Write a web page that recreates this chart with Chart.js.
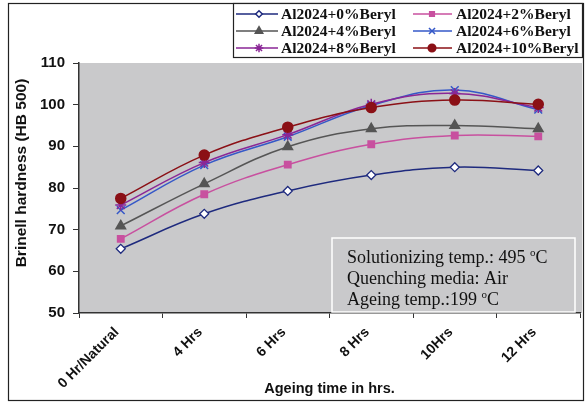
<!DOCTYPE html>
<html>
<head>
<meta charset="utf-8">
<script src="https://cdn.jsdelivr.net/npm/chart.js@4/dist/chart.umd.min.js"></script>
<style>
  html, body { margin: 0; padding: 0; background: #fff; }
  #wrap { width: 588px; height: 403px; }
</style>
</head>
<body>
<div id="wrap"><canvas id="chartCanvas" width="588" height="403"></canvas></div>
<script>
// categories and series
const categories = ["0 Hr/Natural", "4 Hrs", "6 Hrs", "8 Hrs", "10Hrs", "12 Hrs"];
const beryl0 = [65.4, 73.8, 79.3, 83.1, 85.0, 84.2];
const beryl2 = [67.8, 78.5, 85.6, 90.5, 92.6, 92.4];
const beryl4 = [70.9, 81.0, 89.9, 94.2, 95.0, 94.2];
const beryl6 = [74.7, 85.5, 92.3, 99.8, 103.5, 98.8];
const beryl8 = [75.9, 86.1, 92.8, 100.1, 102.7, 99.3];
const beryl10 = [77.5, 87.9, 94.6, 99.3, 101.1, 100.1];
const seriesNames = ["Al2024+0%Beryl", "Al2024+2%Beryl", "Al2024+4%Beryl",
                     "Al2024+6%Beryl", "Al2024+8%Beryl", "Al2024+10%Beryl"];
const yTicks = { min: 50, max: 110, step: 10 };
const noteLines = ["Solutionizing temp.: 495 ", "Quenching media: Air", "Ageing temp.:199 "];

const styles = [
    { color: "#1e2a7e", point: "rectRot", fill: "#ffffff", r: 4.5 },
    { color: "#c8509f", point: "rect", fill: "#c8509f", r: 4.5 },
    { color: "#555555", point: "triangle", fill: "#555555", r: 5.5 },
    { color: "#3558c8", point: "crossRot", fill: "#3558c8", r: 5.5 },
    { color: "#8a2696", point: "star", fill: "#8a2696", r: 5.5 },
    { color: "#8b1016", point: "circle", fill: "#8b1016", r: 5 }
];

const allData = [beryl0, beryl2, beryl4, beryl6, beryl8, beryl10];

const datasets = allData.map((d, i) => ({
    label: seriesNames[i],
    data: d,
    borderColor: styles[i].color,
    backgroundColor: styles[i].fill,
    borderWidth: 1.5,
    tension: 0.4,
    pointStyle: styles[i].point,
    pointRadius: styles[i].r,
    pointBorderColor: styles[i].color,
    pointBackgroundColor: styles[i].fill,
    pointBorderWidth: i === 0 ? 1.3 : 1.5,
    order: 5 - i
}));

function marker(ctx, st, x, y) {
    ctx.save();
    ctx.strokeStyle = st.color;
    ctx.fillStyle = st.fill;
    ctx.lineWidth = 1.5;
    Chart.helpers.drawPoint(ctx, { pointStyle: st.point, radius: st.r - 1.2, rotation: 0, borderWidth: 1.5 }, x, y);
    ctx.restore();
}

const serif = "'Liberation Serif', 'Times New Roman', serif";

const decor = {
    id: "decor",
    beforeDraw(chart) {
        const { ctx, chartArea: a } = chart;
        ctx.save();
        ctx.fillStyle = "#fff";
        ctx.fillRect(0, 0, chart.width, chart.height);
        ctx.fillStyle = "#c9c9cb";
        ctx.fillRect(a.left, a.top, a.right - a.left + 2, a.bottom - a.top);
        ctx.restore();
    },
    beforeDatasetsDraw(chart) {
        const { ctx } = chart;
        ctx.save();
        // note box
        ctx.strokeStyle = "#ffffff";
        ctx.lineWidth = 1.5;
        ctx.strokeRect(332, 238, 243, 74);
        ctx.fillStyle = "#111";
        ctx.textBaseline = "alphabetic";
        const ys = [263, 284, 305];
        noteLines.forEach((t, i) => {
            ctx.font = "18px " + serif;
            ctx.fillText(t, 347, ys[i]);
            if (i !== 1) {
                let x = 347 + ctx.measureText(t).width;
                ctx.font = "11px " + serif;
                ctx.fillText("o", x, ys[i] - 7);
                x += ctx.measureText("o").width;
                ctx.font = "18px " + serif;
                ctx.fillText("C", x, ys[i]);
            }
        });
        ctx.restore();
    },
    afterDraw(chart) {
        const { ctx } = chart;
        ctx.save();
        // outer frame
        ctx.strokeStyle = "#222";
        ctx.lineWidth = 1.2;
        ctx.strokeRect(8.5, 3.5, 575, 397);
        // legend box
        ctx.fillStyle = "#fff";
        ctx.fillRect(233.5, 3.5, 349, 54);
        ctx.strokeRect(233.5, 3.5, 349, 54);
        const rows = [14, 31, 48];
        const cols = [{ l: 236, m: 259, r: 278, t: 281 }, { l: 413, m: 432, r: 452, t: 456 }];
        ctx.font = "bold 15.5px " + serif;
        ctx.textBaseline = "middle";
        seriesNames.forEach((name, i) => {
            const c = cols[i % 2], y = rows[Math.floor(i / 2)], st = styles[i];
            ctx.strokeStyle = st.color;
            ctx.lineWidth = 1.5;
            ctx.beginPath();
            ctx.moveTo(c.l, y);
            ctx.lineTo(c.r, y);
            ctx.stroke();
            marker(ctx, st, c.m, y);
            ctx.fillStyle = "#111";
            ctx.fillText(name, c.t, y + 1);
        });
        // y axis title
        ctx.translate(22, 173);
        ctx.rotate(-Math.PI / 2);
        ctx.textAlign = "center";
        ctx.textBaseline = "middle";
        ctx.fillStyle = "#111";
        ctx.font = "bold 15.5px 'Liberation Sans', Arial, sans-serif";
        ctx.fillText("Brinell hardness (HB 500)", 0, 0);
        ctx.restore();
    }
};

const ctx = document.getElementById("chartCanvas").getContext("2d");
const chart = new Chart(ctx, {
    type: "line",
    data: { labels: categories, datasets: datasets },
    options: {
        responsive: false,
        animation: false,
        layout: { padding: { left: 0, right: 8, top: 63, bottom: 0 } },
        plugins: {
            legend: { display: false },
            tooltip: { enabled: false }
        },
        scales: {
            x: {
                offset: true,
                afterFit: s => { s.height = 90; },
                grid: { offset: true, drawOnChartArea: false, tickLength: 5, color: "#333", lineWidth: 1 },
                border: { display: true, color: "#333", width: 1.5 },
                ticks: {
                    autoSkip: false,
                    minRotation: 45,
                    maxRotation: 45,
                    padding: 6,
                    labelOffset: -4,
                    color: "#111",
                    font: { family: "'Liberation Sans', Arial, sans-serif", size: 14, weight: "bold" }
                },
                title: {
                    display: true,
                    text: "Ageing time in hrs.",
                    color: "#111",
                    padding: { top: 0, bottom: 5 },
                    font: { family: "'Liberation Sans', Arial, sans-serif", size: 14.5, weight: "bold" }
                }
            },
            y: {
                min: yTicks.min,
                max: yTicks.max,
                afterFit: s => { s.width = 79; },
                grid: { drawOnChartArea: false, tickLength: 6, color: "#333", lineWidth: 1 },
                border: { display: true, color: "#333", width: 1.5 },
                ticks: {
                    stepSize: yTicks.step,
                    padding: 8,
                    color: "#111",
                    font: { family: "'Liberation Sans', Arial, sans-serif", size: 15, weight: "bold" }
                }
            }
        }
    },
    plugins: [decor]
});
</script>
</body>
</html>
